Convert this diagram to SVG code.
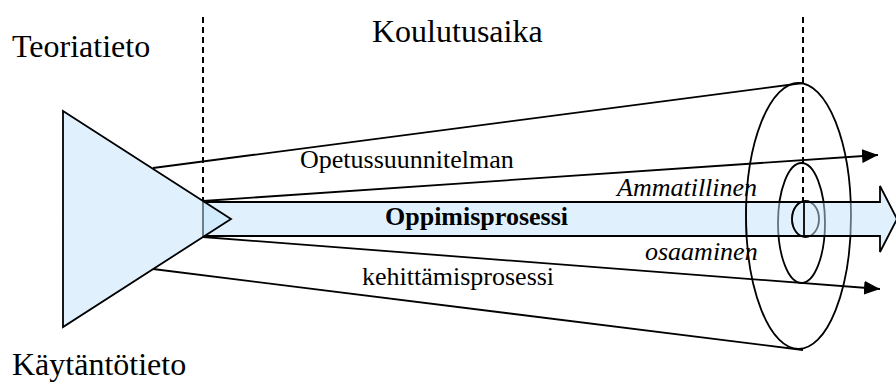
<svg xmlns="http://www.w3.org/2000/svg" width="896" height="385" viewBox="0 0 896 385">
<style>
.ln{stroke:#000;stroke-width:1.8;fill:none}
.dash{stroke:#000;stroke-width:2;stroke-dasharray:6,4;fill:none}
.blue{fill:#c1e3fb;fill-opacity:0.5;stroke:#000;stroke-width:1.8}
.big{font-size:32px;fill:#000}
.sm{font-size:26px;fill:#000}
</style>
<defs>
<marker id="ah" markerWidth="16" markerHeight="14" refX="16" refY="7" orient="auto" markerUnits="userSpaceOnUse">
<path d="M0,0 L16,7 L0,14 Z" fill="#000"/>
</marker>
<clipPath id="band"><rect x="0" y="202" width="896" height="34"/></clipPath>
</defs>
<rect width="896" height="385" fill="#fff"/>
<g id="rings">
<ellipse cx="798.5" cy="216" rx="52.5" ry="133" class="ln"/>
<ellipse cx="801.5" cy="223" rx="23.5" ry="60" class="ln"/>
<ellipse cx="805.5" cy="219" rx="13.5" ry="18" class="ln"/>
</g>
<g id="connectors">
<line x1="203" y1="17" x2="203" y2="201" class="dash"/>
<line x1="803" y1="17" x2="803" y2="201" class="dash"/>
<line x1="153" y1="168" x2="803" y2="83" class="ln"/>
<line x1="153" y1="269" x2="803" y2="350" class="ln"/>
<line x1="203" y1="201" x2="878" y2="155" class="ln" marker-end="url(#ah)"/>
<line x1="203" y1="237" x2="880" y2="289" class="ln" marker-end="url(#ah)"/>
</g>
<g id="oppimisprosessi">
<polygon points="203,202 880,202 880,186 897,219 880,252 880,236 203,236" class="blue"/>
</g>
<g id="overlay" clip-path="url(#band)">
<path d="M798.5,83 A52.5,133 0 0 0 798.5,349" class="ln"/>
<path d="M805.5,201 A13.5,18 0 0 0 805.5,237" class="ln"/>
</g>
<line x1="804" y1="201" x2="804" y2="237" class="ln"/>
<g id="triangle">
<polygon points="63,111 231,219 63,327" class="blue"/>
</g>
<g id="labels" font-family="'Liberation Serif', 'Times New Roman', serif">
<text x="12" y="57" class="big">Teoriatieto</text>
<text x="372" y="42" class="big">Koulutusaika</text>
<text x="12" y="375" class="big">Käytäntötieto</text>
<text x="300" y="168" class="sm">Opetussuunnitelman</text>
<text x="617" y="196" class="sm" font-style="italic">Ammatillinen</text>
<text x="385" y="225" class="sm" font-weight="bold">Oppimisprosessi</text>
<text x="645" y="260" class="sm" font-style="italic">osaaminen</text>
<text x="362" y="285" class="sm">kehittämisprosessi</text>
</g>
</svg>
